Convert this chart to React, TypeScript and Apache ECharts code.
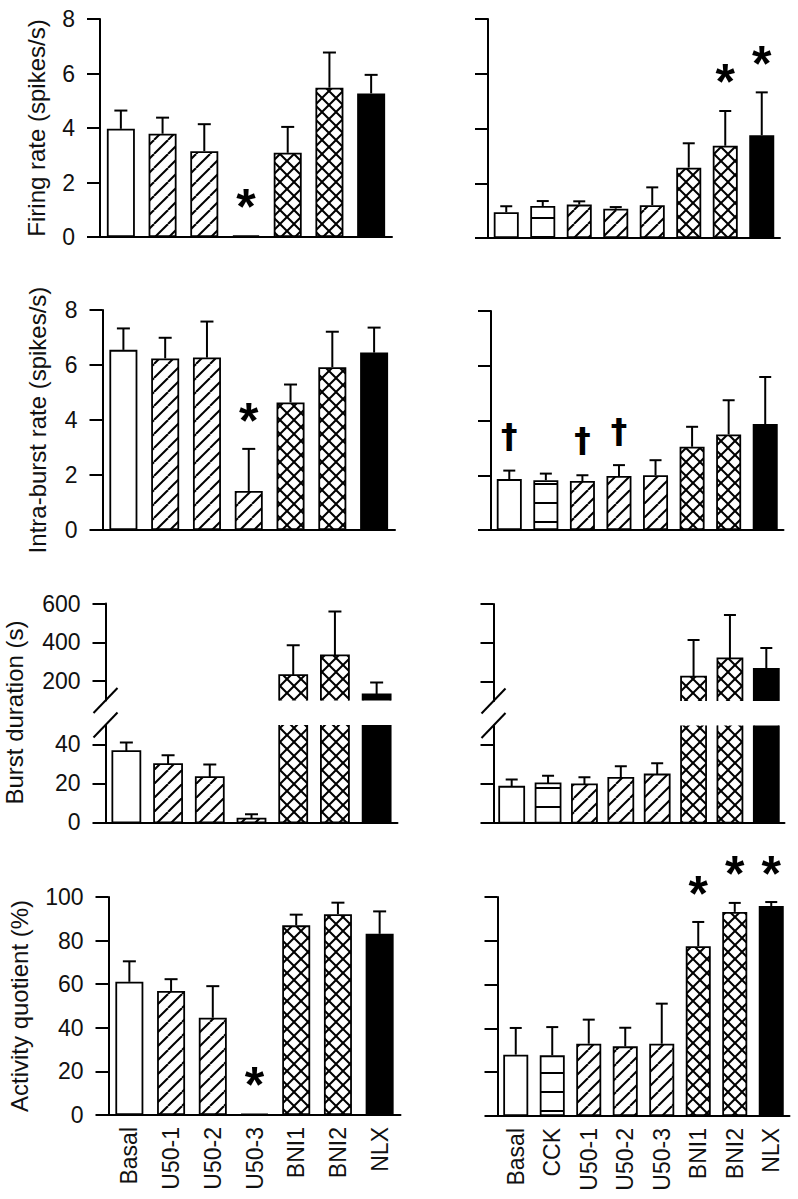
import React, { useEffect, useRef } from "react";
import * as echarts from "echarts";

// ---------- categories ----------
const leftCategories = ["Basal", "U50-1", "U50-2", "U50-3", "BNI1", "BNI2", "NLX"];
const rightCategories = ["Basal", "CCK", "U50-1", "U50-2", "U50-3", "BNI1", "BNI2", "NLX"];
const leftPatterns = ["open", "hatch", "hatch", "hatch", "cross", "cross", "solid"];
const rightPatterns = ["open", "stripe", "hatch", "hatch", "hatch", "cross", "cross", "solid"];

// ---------- means and SEM ----------
const firingLeft = [3.97, 3.79, 3.15, 0.06, 3.09, 5.48, 5.27];
const firingLeftSem = [0.67, 0.59, 0.99, 0, 0.95, 1.29, 0.68];
const firingRight = [0.94, 1.17, 1.22, 1.07, 1.2, 2.57, 3.37, 3.75];
const firingRightSem = [0.22, 0.18, 0.12, 0.06, 0.65, 0.89, 1.27, 1.57];

const intraLeft = [6.55, 6.24, 6.27, 1.42, 4.64, 5.92, 6.45];
const intraLeftSem = [0.78, 0.75, 1.31, 1.53, 0.65, 1.29, 0.91];
const intraRight = [1.86, 1.82, 1.79, 1.97, 2.0, 3.04, 3.49, 3.87];
const intraRightSem = [0.31, 0.24, 0.21, 0.4, 0.55, 0.73, 1.25, 1.72];

const burstLeft = [36.6, 29.9, 23.2, 1.9, 231, 333, 132];
const burstLeftSem = [4.4, 4.6, 6.5, 2.2, 154, 226, 61];
const burstRight = [18.5, 20.2, 19.7, 23.1, 24.8, 226, 320, 265];
const burstRightSem = [3.7, 3.9, 3.7, 6.0, 5.8, 188, 223, 108];

const activityLeft = [61.1, 56.9, 44.6, 0.5, 87.0, 92.1, 83.1];
const activityLeftSem = [9.4, 5.4, 14.5, 0, 4.9, 5.3, 10.3];
const activityRight = [28.0, 27.7, 33.0, 31.8, 33.0, 77.5, 93.2, 95.9];
const activityRightSem = [12.2, 12.9, 11.0, 8.5, 18.3, 11.1, 4.1, 1.8];

// ---------- tick values ----------
const rateTicks = [0, 2, 4, 6, 8];
const burstUpperTicks = [200, 400, 600];
const burstLowerTicks = [0, 20, 40];
const activityTicks = [0, 20, 40, 60, 80, 100];

// ---------- significance marks ----------
const firingLeftMarks = [{ cat: "U50-3", y: 1.54, glyph: "*" }];
const firingRightMarks = [
  { cat: "BNI2", y: 6.13, glyph: "*" },
  { cat: "NLX", y: 6.79, glyph: "*" },
];
const intraLeftMarks = [{ cat: "U50-3", y: 4.4, glyph: "*" }];
const intraRightMarks = [
  { cat: "Basal", y: 3.43, glyph: "†" },
  { cat: "U50-1", y: 3.28, glyph: "†" },
  { cat: "U50-2", y: 3.58, glyph: "†" },
];
const activityLeftMarks = [{ cat: "U50-3", y: 19.2, glyph: "*" }];
const activityRightMarks = [
  { cat: "BNI1", y: 106.8, glyph: "*" },
  { cat: "BNI2", y: 115.8, glyph: "*" },
  { cat: "NLX", y: 115.8, glyph: "*" },
];

// ---------- layout / style ----------
const FONT = '"Liberation Sans", Arial, Helvetica, sans-serif';
const DAGGER_FONT = '"DejaVu Sans", "Liberation Sans", sans-serif';
const INK = "#111";
const TICK_FS = 23;
const CAT_FS = 23;
const TITLE_FS = 24;

function makeTile(kind: string): HTMLCanvasElement {
  const c = document.createElement("canvas");
  const ctx = c.getContext("2d") as CanvasRenderingContext2D;
  if (kind === "stripe") {
    c.width = 6;
    c.height = 19;
    ctx.fillStyle = "#fff";
    ctx.fillRect(0, 0, 6, 19);
    ctx.fillStyle = "#000";
    ctx.fillRect(0, 8, 6, 2);
    return c;
  }
  const s = 14;
  c.width = s;
  c.height = s;
  ctx.fillStyle = "#fff";
  ctx.fillRect(0, 0, s, s);
  ctx.strokeStyle = "#000";
  ctx.lineWidth = 2;
  for (const o of [-s, 0, s]) {
    ctx.beginPath();
    ctx.moveTo(o, s);
    ctx.lineTo(o + s, 0);
    ctx.stroke();
    if (kind === "cross") {
      ctx.beginPath();
      ctx.moveTo(o, 0);
      ctx.lineTo(o + s, s);
      ctx.stroke();
    }
  }
  return c;
}

function buildOption() {
  const tiles: any = { hatch: makeTile("hatch"), cross: makeTile("cross"), stripe: makeTile("stripe") };
  const fillFor = (k: string): any =>
    k === "open" ? "#fff" : k === "solid" ? "#000" : { image: tiles[k], repeat: "repeat" };

  const grid: any[] = [];
  const xAxis: any[] = [];
  const yAxis: any[] = [];
  const series: any[] = [];
  const graphic: any[] = [];

  const addAxes = (rect: any, cats: string[], min: number, max: number, ticks: number[], o: any) => {
    const gi = grid.length;
    grid.push({ left: rect.left, top: rect.top, width: rect.width, height: rect.height });
    xAxis.push({
      type: "category",
      gridIndex: gi,
      data: cats,
      boundaryGap: true,
      axisLine: { show: o.baseline, onZero: false, lineStyle: { color: "#000", width: 2 } },
      axisTick: { show: false },
      axisLabel: o.catLabels
        ? { show: true, rotate: 90, margin: 12, fontSize: CAT_FS, fontFamily: FONT, color: INK, interval: 0 }
        : { show: false },
      splitLine: { show: false },
    });
    yAxis.push({
      type: "value",
      gridIndex: gi,
      min,
      max,
      axisLine: { show: true, onZero: false, lineStyle: { color: "#000", width: 2 } },
      axisTick: { show: true, length: 13, customValues: ticks, lineStyle: { color: "#000", width: 2 } },
      axisLabel: {
        show: o.tickLabels,
        customValues: ticks,
        margin: 25,
        fontSize: TICK_FS,
        fontFamily: FONT,
        color: INK,
      },
      splitLine: { show: false },
      name: o.title || "",
      nameLocation: "middle",
      nameGap: o.nameGap || 50,
      nameTextStyle: { fontSize: TITLE_FS, fontFamily: FONT, color: INK },
    });
    return gi;
  };

  const clipFor = (cs: any, mode: string) => {
    if (mode === "upper") return { type: "rect", shape: { x: cs.x - 20, y: cs.y - 60, width: cs.width + 40, height: cs.height + 60 } };
    if (mode === "lower") return { type: "rect", shape: { x: cs.x - 20, y: cs.y, width: cs.width + 40, height: cs.height + 10 } };
    return null;
  };

  const addErrors = (gi: number, values: number[], sem: number[], capW: number, mode: string) => {
    series.push({
      type: "custom",
      xAxisIndex: gi,
      yAxisIndex: gi,
      silent: true,
      clip: false,
      z: 3,
      data: values.map((v, i) => [i, v, sem[i]]),
      renderItem: (params: any, api: any) => {
        const i = api.value(0);
        const v = api.value(1);
        const e = api.value(2);
        const children: any[] = [];
        if (e > 0) {
          const a = api.coord([i, v]);
          const b = api.coord([i, v + e]);
          children.push({ type: "line", shape: { x1: a[0], y1: a[1], x2: b[0], y2: b[1] }, style: { stroke: "#000", lineWidth: 2 } });
          children.push({ type: "line", shape: { x1: b[0] - capW / 2, y1: b[1], x2: b[0] + capW / 2, y2: b[1] }, style: { stroke: "#000", lineWidth: 2 } });
        }
        const g: any = { type: "group", children };
        const cp = clipFor(params.coordSys, mode);
        if (cp) g.clipPath = cp;
        return g;
      },
    });
  };

  const addMarks = (gi: number, cats: string[], marks: any[]) => {
    series.push({
      type: "custom",
      xAxisIndex: gi,
      yAxisIndex: gi,
      silent: true,
      clip: false,
      z: 4,
      data: marks.map((m) => [cats.indexOf(m.cat), m.y]),
      renderItem: (params: any, api: any) => {
        const m = marks[params.dataIndex];
        const p = api.coord([api.value(0), api.value(1)]);
        const star = m.glyph === "*";
        const fs = star ? 50 : 33;
        return {
          type: "text",
          x: p[0],
          y: p[1] + (star ? 0.23 * fs : 0),
          style: {
            text: m.glyph,
            fontSize: fs,
            fontWeight: "bold",
            fontFamily: star ? FONT : DAGGER_FONT,
            fill: "#000",
            align: "center",
            verticalAlign: "middle",
          },
        };
      },
    });
  };

  const addSimplePanel = (p: any) => {
    const gi = addAxes(p.rect, p.cats, p.min, p.max, p.ticks, {
      baseline: true,
      catLabels: p.catLabels,
      tickLabels: p.tickLabels,
      title: p.title,
      nameGap: p.nameGap,
    });
    series.push({
      type: "bar",
      xAxisIndex: gi,
      yAxisIndex: gi,
      barWidth: p.barW,
      silent: true,
      z: 2,
      itemStyle: { borderColor: "#000", borderWidth: 1.8 },
      data: p.values.map((v: number, i: number) => ({ value: v, itemStyle: { color: fillFor(p.patterns[i]) } })),
    });
    addErrors(gi, p.values, p.sem, p.capW, "none");
    if (p.marks) addMarks(gi, p.cats, p.marks);
  };

  const addBrokenPanel = (p: any) => {
    const parts = [
      { rect: p.upper, min: 100, max: 600, ticks: burstUpperTicks, mode: "upper", baseline: false },
      { rect: p.lower, min: 0, max: 50, ticks: burstLowerTicks, mode: "lower", baseline: true },
    ];
    for (const part of parts) {
      const gi = addAxes(part.rect, p.cats, part.min, part.max, part.ticks, {
        baseline: part.baseline,
        catLabels: false,
        tickLabels: p.tickLabels,
      });
      series.push({
        type: "custom",
        xAxisIndex: gi,
        yAxisIndex: gi,
        silent: true,
        clip: false,
        z: 2,
        data: p.values.map((v: number, i: number) => [i, v]),
        renderItem: (params: any, api: any) => {
          const i = api.value(0);
          const v = api.value(1);
          const top = api.coord([i, v]);
          const base = api.coord([i, 0]);
          return {
            type: "rect",
            shape: { x: top[0] - p.barW / 2, y: top[1], width: p.barW, height: base[1] - top[1] },
            style: { fill: fillFor(p.patterns[i]), stroke: "#000", lineWidth: 1.8 },
            clipPath: clipFor(params.coordSys, part.mode),
          };
        },
      });
      addErrors(gi, p.values, p.sem, p.capW, part.mode);
    }
    // axis break slashes
    const ax = p.upper.left;
    const yU = p.upper.top + p.upper.height;
    const yL = p.lower.top;
    for (const yc of [yU, yL]) {
      graphic.push({
        type: "line",
        silent: true,
        shape: { x1: ax - 12, y1: yc + 12.5, x2: ax + 12, y2: yc - 12.5 },
        style: { stroke: "#000", lineWidth: 2 },
      });
    }
  };

  // Row 1: firing rate
  addSimplePanel({
    rect: { left: 100, top: 19, width: 292, height: 218 },
    cats: leftCategories, patterns: leftPatterns, values: firingLeft, sem: firingLeftSem,
    min: 0, max: 8, ticks: rateTicks, tickLabels: true, catLabels: false,
    title: "Firing rate (spikes/s)", nameGap: 52, barW: 28, capW: 13, marks: firingLeftMarks,
  });
  addSimplePanel({
    rect: { left: 488, top: 19, width: 292, height: 219 },
    cats: rightCategories, patterns: rightPatterns, values: firingRight, sem: firingRightSem,
    min: 0, max: 8, ticks: rateTicks, tickLabels: false, catLabels: false,
    barW: 25, capW: 12, marks: firingRightMarks,
  });
  // Row 2: intra-burst rate
  addSimplePanel({
    rect: { left: 102.5, top: 310, width: 292.5, height: 220 },
    cats: leftCategories, patterns: leftPatterns, values: intraLeft, sem: intraLeftSem,
    min: 0, max: 8, ticks: rateTicks, tickLabels: true, catLabels: false,
    title: "Intra-burst rate (spikes/s)", nameGap: 53, barW: 28, capW: 13, marks: intraLeftMarks,
  });
  addSimplePanel({
    rect: { left: 491, top: 311, width: 292.5, height: 219 },
    cats: rightCategories, patterns: rightPatterns, values: intraRight, sem: intraRightSem,
    min: 0, max: 8, ticks: rateTicks, tickLabels: false, catLabels: false,
    barW: 25, capW: 12, marks: intraRightMarks,
  });
  // Row 3: burst duration (broken axis)
  addBrokenPanel({
    upper: { left: 105.5, top: 603.5, width: 292, height: 97 },
    lower: { left: 105.5, top: 725, width: 292, height: 97.3 },
    cats: leftCategories, patterns: leftPatterns, values: burstLeft, sem: burstLeftSem,
    tickLabels: true, barW: 28, capW: 13,
  });
  addBrokenPanel({
    upper: { left: 493.5, top: 604, width: 291, height: 97 },
    lower: { left: 493.5, top: 725.5, width: 291, height: 97.2 },
    cats: rightCategories, patterns: rightPatterns, values: burstRight, sem: burstRightSem,
    tickLabels: false, barW: 25, capW: 12,
  });
  graphic.push({
    type: "text",
    silent: true,
    x: 14,
    y: 712.5,
    rotation: Math.PI / 2,
    style: { text: "Burst duration (s)", fontSize: TITLE_FS, fontFamily: FONT, fill: INK, align: "center", verticalAlign: "middle" },
  });
  // Row 4: activity quotient
  addSimplePanel({
    rect: { left: 108.5, top: 897, width: 292, height: 218 },
    cats: leftCategories, patterns: leftPatterns, values: activityLeft, sem: activityLeftSem,
    min: 0, max: 100, ticks: activityTicks, tickLabels: true, catLabels: true,
    title: "Activity quotient (%)", nameGap: 77, barW: 28, capW: 13, marks: activityLeftMarks,
  });
  addSimplePanel({
    rect: { left: 497.5, top: 897, width: 292, height: 219 },
    cats: rightCategories, patterns: rightPatterns, values: activityRight, sem: activityRightSem,
    min: 0, max: 100, ticks: activityTicks, tickLabels: false, catLabels: true,
    barW: 25, capW: 12, marks: activityRightMarks,
  });

  return {
    animation: false,
    backgroundColor: "#fff",
    textStyle: { fontFamily: FONT },
    grid,
    xAxis,
    yAxis,
    series,
    graphic,
  };
}

export default function App() {
  const ref = useRef<HTMLDivElement>(null);
  useEffect(() => {
    document.body.style.margin = "0";
    const chart = echarts.init(ref.current as HTMLDivElement, null, { renderer: "svg" });
    chart.setOption(buildOption() as any);
    return () => chart.dispose();
  }, []);
  return <div ref={ref} style={{ width: 798, height: 1199 }} />;
}
